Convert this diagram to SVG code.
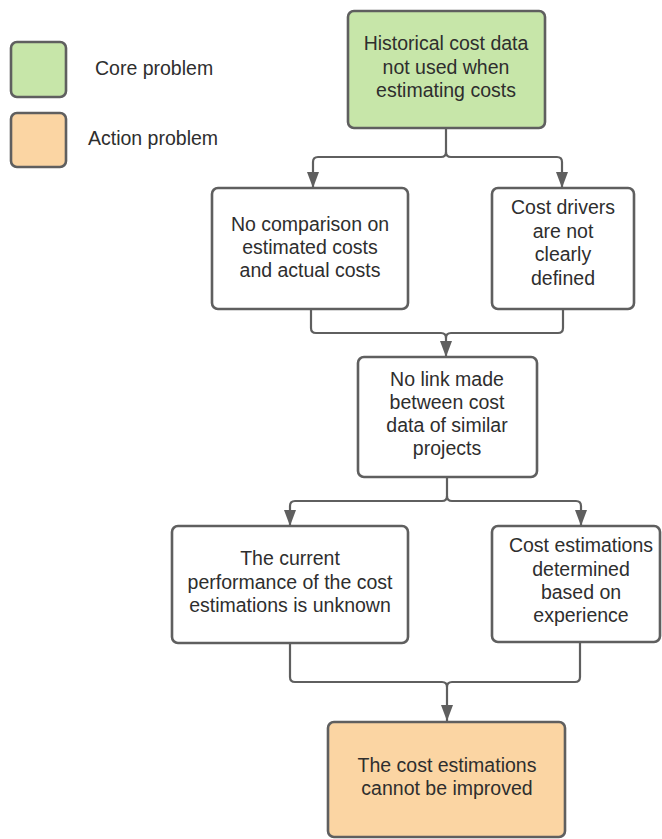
<svg xmlns="http://www.w3.org/2000/svg" width="662" height="839" viewBox="0 0 662 839">
<style>
.box{stroke:#5f5f5f;stroke-width:2.6;fill:#ffffff}
.core{fill:#c7e6a9}
.action{fill:#fbd5a3}
.t{font-family:"Liberation Sans",Arial,sans-serif;font-size:19.5px;fill:#2e2e2e;text-anchor:middle}
.lg{font-family:"Liberation Sans",Arial,sans-serif;font-size:19.5px;fill:#2e2e2e}
.c{fill:none;stroke:#5f5f5f;stroke-width:2.2}
</style>
<defs>
<marker id="arr" viewBox="0 0 16 12" refX="16" refY="6" markerWidth="16" markerHeight="12" markerUnits="userSpaceOnUse" orient="auto">
<path d="M0,0 L16,6 L0,12 z" fill="#5f5f5f"/>
</marker>
</defs>
<rect width="662" height="839" fill="#ffffff"/>
<g id="legend">
<rect class="box core" x="11" y="42" width="55" height="55" rx="6"/>
<text class="lg" x="95" y="75">Core problem</text>
<rect class="box action" x="11" y="113" width="55" height="54" rx="6"/>
<text class="lg" x="88" y="145">Action problem</text>
</g>
<g id="connectors">
<path class="c" d="M446,128 V152 Q446,157 441,157 H318 Q313,157 313,162 V188" marker-end="url(#arr)"/>
<path class="c" d="M446,152 Q446,157 451,157 H557 Q562,157 562,162 V188" marker-end="url(#arr)"/>
<path class="c" d="M311,309 V328 Q311,333 316,333 H441 Q446,333 446,338 V357" marker-end="url(#arr)"/>
<path class="c" d="M563,309 V328 Q563,333 558,333 H451 Q446,333 446,338"/>
<path class="c" d="M447,477 V496 Q447,501 442,501 H295 Q290,501 290,506 V526" marker-end="url(#arr)"/>
<path class="c" d="M447,496 Q447,501 452,501 H576 Q581,501 581,506 V526" marker-end="url(#arr)"/>
<path class="c" d="M290,643 V677 Q290,682 295,682 H442 Q447,682 447,687 V721" marker-end="url(#arr)"/>
<path class="c" d="M580,642 V677 Q580,682 575,682 H452 Q447,682 447,687"/>
</g>
<g id="n1">
<rect class="box core" x="348" y="11" width="197" height="117" rx="6"/>
<text class="t" x="446" y="50">Historical cost data</text>
<text class="t" x="446" y="74">not used when</text>
<text class="t" x="446" y="97">estimating costs</text>
</g>
<g id="n2">
<rect class="box" x="212" y="188" width="196" height="121" rx="6"/>
<text class="t" x="310" y="231">No comparison on</text>
<text class="t" x="310" y="254">estimated costs</text>
<text class="t" x="310" y="277">and actual costs</text>
</g>
<g id="n3">
<rect class="box" x="492" y="188" width="142" height="121" rx="6"/>
<text class="t" x="563" y="214">Cost drivers</text>
<text class="t" x="563" y="238">are not</text>
<text class="t" x="563" y="261">clearly</text>
<text class="t" x="563" y="285">defined</text>
</g>
<g id="n4">
<rect class="box" x="358" y="357" width="179" height="120" rx="6"/>
<text class="t" x="447" y="386">No link made</text>
<text class="t" x="447" y="409">between cost</text>
<text class="t" x="447" y="432">data of similar</text>
<text class="t" x="447" y="455">projects</text>
</g>
<g id="n5">
<rect class="box" x="172" y="526" width="236" height="117" rx="6"/>
<text class="t" x="290" y="565">The current</text>
<text class="t" x="290" y="589">performance of the cost</text>
<text class="t" x="290" y="612">estimations is unknown</text>
</g>
<g id="n6">
<rect class="box" x="492" y="526" width="168" height="116" rx="6"/>
<text class="t" x="581" y="552">Cost estimations</text>
<text class="t" x="581" y="576">determined</text>
<text class="t" x="581" y="599">based on</text>
<text class="t" x="581" y="622">experience</text>
</g>
<g id="n7">
<rect class="box action" x="328" y="722" width="237" height="115" rx="6"/>
<text class="t" x="447" y="772">The cost estimations</text>
<text class="t" x="447" y="795">cannot be improved</text>
</g>
</svg>
